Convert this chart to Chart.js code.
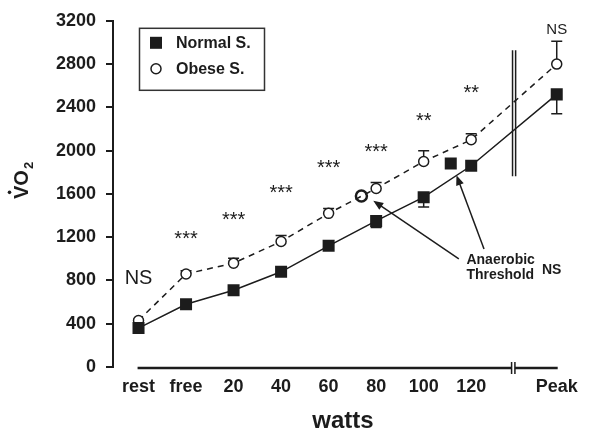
<!DOCTYPE html>
<html>
<head>
<meta charset="utf-8">
<script src="https://cdn.jsdelivr.net/npm/chart.js@4.4.1/dist/chart.umd.min.js"></script>
<style>
  html, body { margin: 0; padding: 0; background: #fff; }
</style>
</head>
<body>
<canvas id="chartVO2" width="589" height="430"></canvas>
<script>
// categories on the x axis and where they sit on the linear scale
const categories = ['rest', 'free', '20', '40', '60', '80', '100', '120', 'Peak'];
const catPos = [0, 1, 2, 3, 4, 5, 6, 7, 8.8];

// VO2 means and SD (error bars)
const normalVO2 = [360, 580, 710, 880, 1120, 1350, 1570, 1860, 2520];
const normalSD  = [0, 0, 0, 0, 0, 60, 90, 0, 180];
const obeseVO2  = [430, 860, 960, 1160, 1420, 1650, 1900, 2100, 2800];
const obeseSD   = [0, 30, 45, 55, 45, 55, 100, 55, 210];

// anaerobic threshold points
const atNormal = { x: 6.57, y: 1880 };
const atObese  = { x: 4.69, y: 1580 };

// significance marks
const signif = ['NS', '***', '***', '***', '***', '***', '**', '**', 'NS'];
const signifY = [764, 1127, 1300, 1555, 1782, 1936, 2218, 2473, 3082];

const yTicks = [0, 400, 800, 1200, 1600, 2000, 2400, 2800, 3200];

const ink = '#1c1c1c';
const FAM = '"Liberation Sans", Arial, sans-serif';

const pts = ys => ys.map((y, i) => ({ x: catPos[i], y: y }));

function arrow(ctx, x1, y1, x2, y2) {
  const a = Math.atan2(y2 - y1, x2 - x1);
  ctx.beginPath();
  ctx.moveTo(x1, y1);
  ctx.lineTo(x2 - 6 * Math.cos(a), y2 - 6 * Math.sin(a));
  ctx.stroke();
  ctx.beginPath();
  ctx.moveTo(x2, y2);
  ctx.lineTo(x2 - 10 * Math.cos(a) + 4 * Math.sin(a), y2 - 10 * Math.sin(a) - 4 * Math.cos(a));
  ctx.lineTo(x2 - 10 * Math.cos(a) - 4 * Math.sin(a), y2 - 10 * Math.sin(a) + 4 * Math.cos(a));
  ctx.closePath();
  ctx.fill();
}

const errorBars = {
  id: 'errorBars',
  beforeDatasetsDraw(chart) {
    const { ctx, scales: { x, y } } = chart;
    ctx.save();
    ctx.strokeStyle = ink;
    ctx.lineWidth = 1.5;
    const draw = (vals, sds, dir) => {
      vals.forEach((v, i) => {
        if (!sds[i]) return;
        const px = x.getPixelForValue(catPos[i]);
        const p0 = y.getPixelForValue(v);
        const p1 = y.getPixelForValue(v + dir * sds[i]);
        ctx.beginPath();
        ctx.moveTo(px, p0); ctx.lineTo(px, p1);
        ctx.moveTo(px - 5.5, p1); ctx.lineTo(px + 5.5, p1);
        ctx.stroke();
      });
    };
    draw(obeseVO2, obeseSD, 1);
    draw(normalVO2, normalSD, -1);
    ctx.restore();
  }
};

const extras = {
  id: 'extras',
  afterDatasetsDraw(chart) {
    const { ctx, scales: { x, y } } = chart;
    const X = v => x.getPixelForValue(v);
    const Y = v => y.getPixelForValue(v);
    ctx.save();
    ctx.strokeStyle = ink;
    ctx.fillStyle = ink;

    // broken x axis line
    const ay = Y(0) + 1;
    ctx.lineWidth = 2.5;
    ctx.beginPath();
    ctx.moveTo(X(-0.02), ay); ctx.lineTo(X(7.85), ay);
    ctx.moveTo(X(7.92), ay); ctx.lineTo(X(8.82), ay);
    ctx.stroke();
    ctx.lineWidth = 1.5;
    ctx.beginPath();
    ctx.moveTo(X(7.85), ay - 6); ctx.lineTo(X(7.85), ay + 6);
    ctx.moveTo(X(7.92), ay - 6); ctx.lineTo(X(7.92), ay + 6);
    ctx.stroke();

    // double break line in the plot
    ctx.lineWidth = 1.5;
    ctx.beginPath();
    ctx.moveTo(X(7.87), Y(2927)); ctx.lineTo(X(7.87), Y(1764));
    ctx.moveTo(X(7.935), Y(2927)); ctx.lineTo(X(7.935), Y(1764));
    ctx.stroke();

    // significance labels
    ctx.textAlign = 'center';
    ctx.textBaseline = 'alphabetic';
    signif.forEach((s, i) => {
      if (s === 'NS') {
        ctx.font = (i === 0 ? '20px ' : '15px ') + FAM;
      } else {
        ctx.font = '20px ' + FAM;
      }
      ctx.fillText(s, X(catPos[i]), Y(signifY[i]));
    });

    // anaerobic threshold label + arrows
    ctx.textAlign = 'left';
    ctx.font = 'bold 14px ' + FAM;
    ctx.fillText('Anaerobic', X(6.9), Y(955));
    ctx.fillText('Threshold', X(6.9), Y(809));
    ctx.font = 'bold 14px ' + FAM;
    ctx.fillText('NS', X(8.49), Y(864));
    ctx.lineWidth = 1.5;
    arrow(ctx, X(6.74), Y(1000), X(4.94), Y(1536));
    arrow(ctx, X(7.27), Y(1091), X(6.69), Y(1773));

    // legend
    const lx = chart.chartArea.left + 26, ly = chart.chartArea.top + 7;
    ctx.lineWidth = 1.5;
    ctx.strokeStyle = '#333';
    ctx.strokeRect(lx + 0.5, ly + 0.5, 125, 62);
    ctx.fillStyle = ink;
    ctx.fillRect(lx + 11, ly + 9, 12, 12);
    ctx.beginPath();
    ctx.arc(lx + 17, ly + 41, 5, 0, Math.PI * 2);
    ctx.fillStyle = '#fff'; ctx.fill();
    ctx.strokeStyle = ink; ctx.stroke();
    ctx.fillStyle = ink;
    ctx.font = 'bold 16px ' + FAM;
    ctx.textBaseline = 'middle';
    ctx.fillText(chart.data.datasets[0].label, lx + 37, ly + 16);
    ctx.fillText(chart.data.datasets[1].label, lx + 37, ly + 42);

    // axis titles
    ctx.textBaseline = 'alphabetic';
    ctx.textAlign = 'center';
    ctx.font = 'bold 24px ' + FAM;
    ctx.fillText('watts', 343, 428);

    ctx.translate(28, 199);
    ctx.rotate(-Math.PI / 2);
    ctx.textAlign = 'left';
    ctx.font = 'bold 20px ' + FAM;
    const vw = ctx.measureText('V').width;
    ctx.fillText('V', 0, 0);
    ctx.fillText('O', vw, 0);
    const ow = ctx.measureText('O').width;
    ctx.font = 'bold 13px ' + FAM;
    ctx.fillText('2', vw + ow + 1, 5);
    ctx.beginPath();
    ctx.arc(vw / 2, -18.5, 1.8, 0, Math.PI * 2);
    ctx.fill();
    ctx.restore();
  }
};

const ctx = document.getElementById('chartVO2');

new Chart(ctx, {
  type: 'line',
  data: {
    datasets: [
      {
        label: 'Normal S.',
        data: pts(normalVO2),
        borderColor: ink,
        borderWidth: 1.5,
        pointStyle: 'rect',
        pointRadius: 8.5,
        pointBackgroundColor: ink,
        pointBorderWidth: 0
      },
      {
        label: 'Obese S.',
        data: pts(obeseVO2),
        borderColor: ink,
        borderWidth: 1.5,
        borderDash: [6, 5],
        pointStyle: 'circle',
        pointRadius: 5,
        pointBackgroundColor: '#fff',
        pointBorderColor: ink,
        pointBorderWidth: 1.5
      },
      {
        label: 'AT normal',
        data: [atNormal],
        showLine: false,
        pointStyle: 'rect',
        pointRadius: 8.5,
        pointBackgroundColor: ink,
        pointBorderWidth: 0
      },
      {
        label: 'AT obese',
        data: [atObese],
        showLine: false,
        pointStyle: 'circle',
        pointRadius: 5.5,
        pointBackgroundColor: '#fff',
        pointBorderColor: ink,
        pointBorderWidth: 2.5
      }
    ]
  },
  options: {
    responsive: false,
    animation: false,
    layout: { padding: { top: 15, right: 0, bottom: 0, left: 0 } },
    plugins: { legend: { display: false }, tooltip: { enabled: false } },
    scales: {
      x: {
        type: 'linear',
        min: -0.537,
        max: 9.3,
        afterBuildTicks: s => { s.ticks = catPos.map(v => ({ value: v })); },
        afterFit: s => { s.height = 63; },
        ticks: {
          autoSkip: false,
          maxRotation: 0,
          padding: 9,
          color: ink,
          font: { family: FAM, size: 18, weight: 'bold' },
          callback: (v, i) => categories[i]
        },
        grid: { display: false, drawTicks: false },
        border: { display: false }
      },
      y: {
        min: 0,
        max: 3200,
        afterBuildTicks: s => { s.ticks = yTicks.map(v => ({ value: v })); },
        afterFit: s => { s.width = 113; },
        ticks: {
          padding: 10,
          color: ink,
          font: { family: FAM, size: 18, weight: 'bold' },
          callback: v => String(v)
        },
        grid: { drawOnChartArea: false, tickLength: 7, tickColor: ink, lineWidth: 2 },
        border: { color: ink, width: 2 }
      }
    }
  },
  plugins: [errorBars, extras]
});
</script>
</body>
</html>
